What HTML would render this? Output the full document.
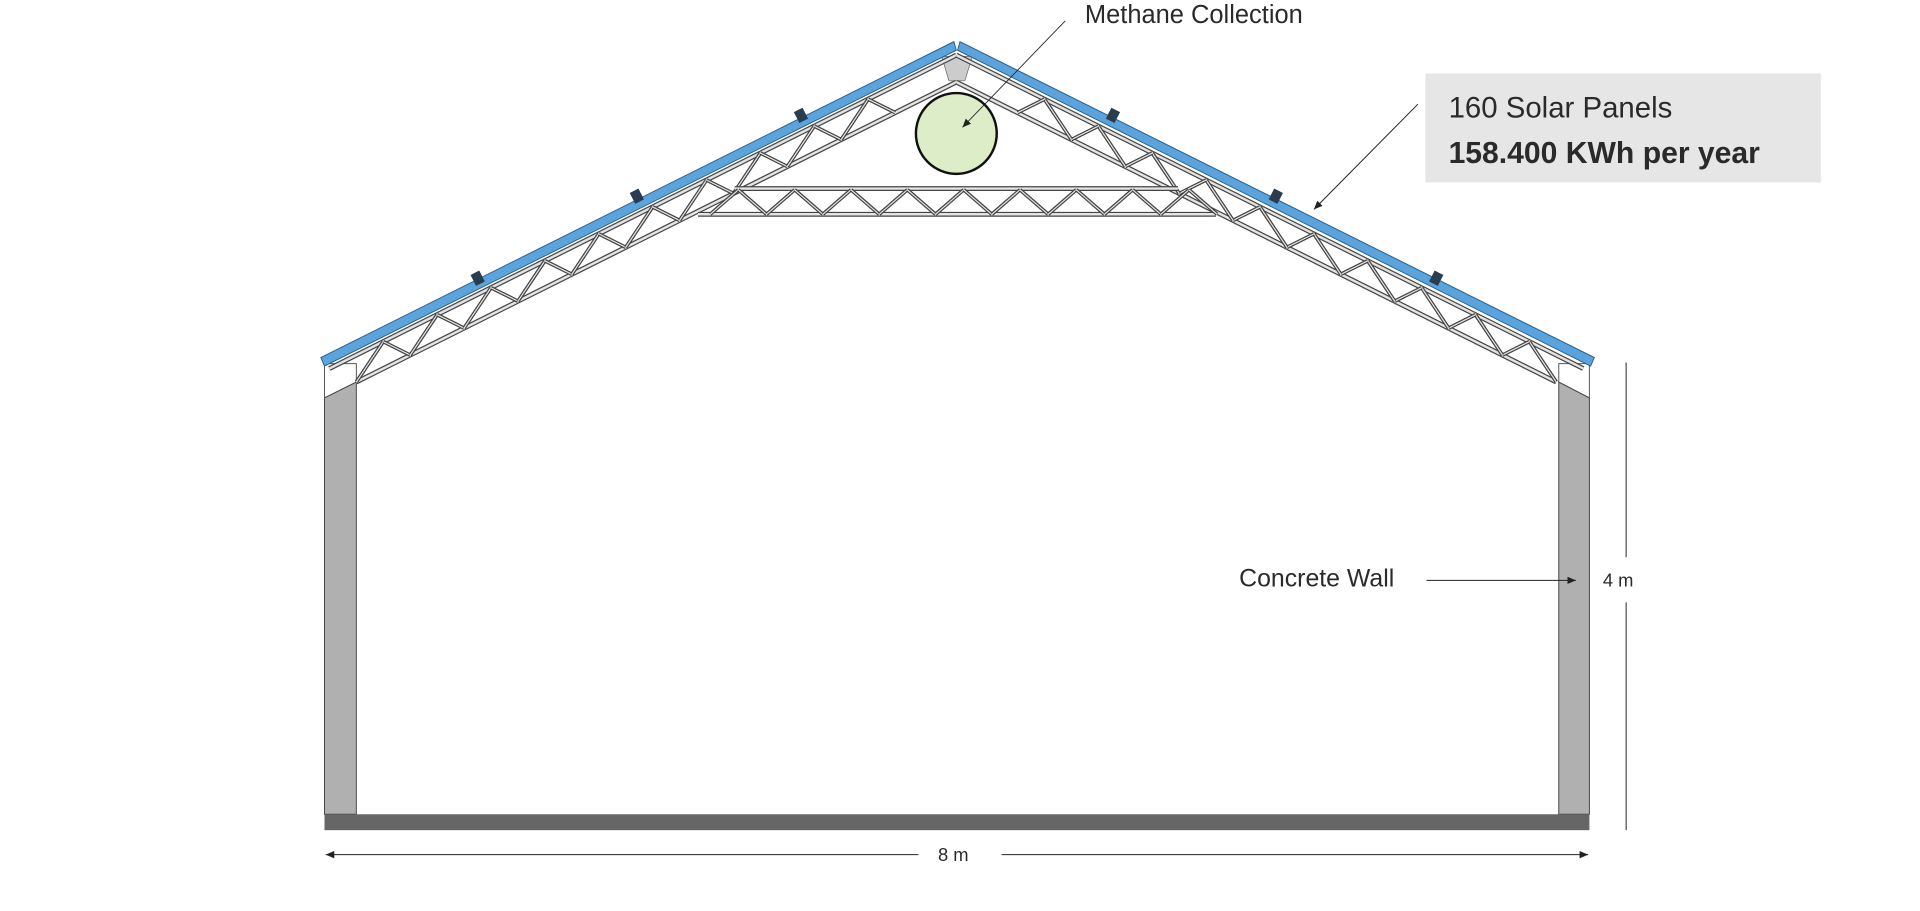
<!DOCTYPE html>
<html><head><meta charset="utf-8"><style>
html,body{margin:0;padding:0;background:#fff;width:1920px;height:911px;overflow:hidden}
svg{display:block}
text{font-family:"Liberation Sans",sans-serif;fill:#2a2a2a}
</style></head><body>
<svg id="s" width="1920" height="911" viewBox="0 0 1568 744" preserveAspectRatio="none" xmlns="http://www.w3.org/2000/svg">
<defs>
<marker id="ah" markerWidth="8" markerHeight="8" refX="7" refY="4" orient="auto" markerUnits="userSpaceOnUse">
<path d="M0,1 L7,4 L0,7 Z" fill="#222"/></marker>
</defs>
<polygon points="265,297 291,297 291,312 265,325" fill="#fff" stroke="#555" stroke-width="0.8"/>
<polygon points="265,325 291,312 291,665 265,665" fill="#b0b0b0" stroke="#444" stroke-width="0.8"/>
<polygon points="1298,297 1273,297 1273,312 1298,325" fill="#fff" stroke="#555" stroke-width="0.8"/>
<polygon points="1298,325 1273,312 1273,665 1298,665" fill="#b0b0b0" stroke="#444" stroke-width="0.8"/>
<rect x="265" y="665" width="1033" height="13" fill="#666"/>
<polygon points="769,46 794,46 788,66 775,66" fill="#ccc" stroke="#666" stroke-width="0.6"/>
<g id="truss"></g>
<polygon points="262,292 779,34 781,41 265,299" fill="#5aa3dc" stroke="#2a5f8a" stroke-width="0.8"/>
<polygon points="784,34 1302,292 1299,299 782,41" fill="#5aa3dc" stroke="#2a5f8a" stroke-width="0.8"/>
<g id="clips" fill="#2a3d50"></g>
<circle cx="781" cy="109" r="33" fill="#dcedc8" stroke="#111" stroke-width="2"/>
<text x="886" y="19" font-size="20.8">Methane Collection</text>
<line x1="870" y1="17" x2="786" y2="104" stroke="#222" stroke-width="0.7" marker-end="url(#ah)"/>
<rect x="1164" y="60" width="323" height="89" fill="#e6e6e6"/>
<text x="1183" y="96" font-size="24">160 Solar Panels</text>
<text x="1183" y="133" font-size="24.6" font-weight="bold" fill="#111">158.400 KWh per year</text>
<line x1="1158" y1="85" x2="1073" y2="171" stroke="#222" stroke-width="0.8" marker-end="url(#ah)"/>
<text x="1012" y="479" font-size="20.3">Concrete Wall</text>
<line x1="1165" y1="474" x2="1287" y2="474" stroke="#222" stroke-width="0.8" marker-end="url(#ah)"/>
<line x1="1328" y1="296" x2="1328" y2="455" stroke="#222" stroke-width="0.8"/>
<line x1="1328" y1="492" x2="1328" y2="678" stroke="#222" stroke-width="0.8"/>
<text x="1309" y="479" font-size="15">4 m</text>
<line x1="750" y1="698" x2="266" y2="698" stroke="#222" stroke-width="0.8" marker-end="url(#ah)"/>
<line x1="818" y1="698" x2="1297" y2="698" stroke="#222" stroke-width="0.8" marker-end="url(#ah)"/>
<text x="766" y="703" font-size="15">8 m</text>
</svg>
<script>
var NS="http://www.w3.org/2000/svg",T=document.getElementById("truss"),C=document.getElementById("clips");
function bar(x1,y1,x2,y2,w){
 w=w||4;
 var a=document.createElementNS(NS,"line");a.setAttribute("x1",x1);a.setAttribute("y1",y1);a.setAttribute("x2",x2);a.setAttribute("y2",y2);
 a.setAttribute("stroke","#444");a.setAttribute("stroke-width",w);T.appendChild(a);
 var b=document.createElementNS(NS,"line");b.setAttribute("x1",x1);b.setAttribute("y1",y1);b.setAttribute("x2",x2);b.setAttribute("y2",y2);
 b.setAttribute("stroke","#e4e4e4");b.setAttribute("stroke-width",w-2);T.appendChild(b);}
var AX=781;
function topY(x){return 45+0.5*Math.abs(AX-x);}
function botY(x){return 67+0.5*Math.abs(AX-x);}
[1,-1].forEach(function(s){
 bar(AX-s*512,topY(AX-s*512),AX,topY(AX));
 bar(AX-s*490,botY(AX-s*490),AX,botY(AX));
 for(var i=0;i<11;i++){
  var da=490-i*44, db=da-22, dc=da-44;
  if(db<40)break;
  bar(AX-s*da,botY(AX-s*da),AX-s*db,topY(AX-s*db),3);
  if(dc>40) bar(AX-s*db,topY(AX-s*db),AX-s*dc,botY(AX-s*dc),3);
 }
});
bar(600,154,962,154);bar(570,175,993,175);
for(var i=0;i<9;i++){var x=580+i*46;bar(x,175,x+23,155,3);bar(x+23,155,x+46,175,3);}
[[391,229],[521,162],[655,96],[908,96],[1041,162],[1172,229]].forEach(function(p){
 var r=document.createElementNS(NS,"rect");r.setAttribute("x",p[0]-4);r.setAttribute("y",p[1]-7);r.setAttribute("width",8);r.setAttribute("height",10);
 r.setAttribute("transform","rotate("+(p[0]<781?-27:27)+" "+p[0]+" "+p[1]+")");C.appendChild(r);});
</script>
</body></html>
